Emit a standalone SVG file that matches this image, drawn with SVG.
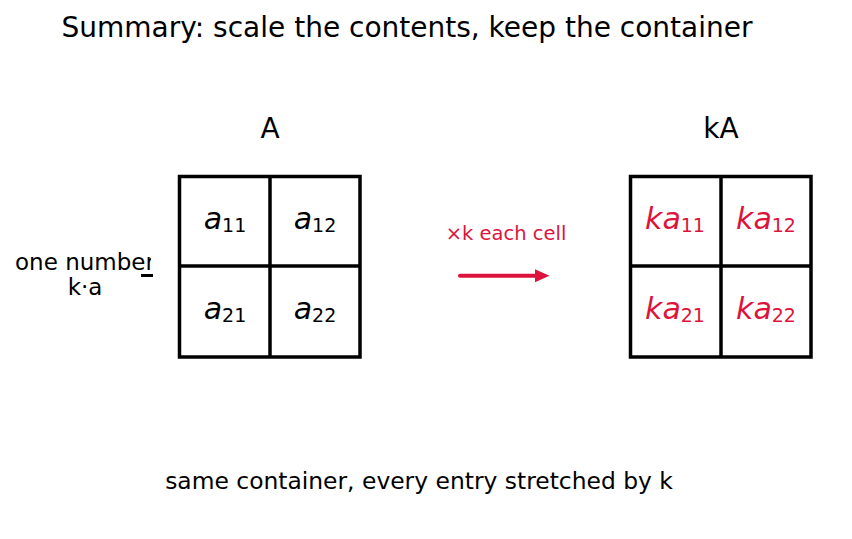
<svg xmlns="http://www.w3.org/2000/svg" width="852" height="539" viewBox="0 0 852 539">
<style>
text{font-family:"DejaVu Sans",sans-serif;}
.title{font-size:28px;fill:#000;text-anchor:middle;}
.lbl{font-size:28px;fill:#000;text-anchor:middle;}
.cell{font-size:30px;text-anchor:middle;}
.cell .v{font-style:italic;}
.cell .s{font-size:19px;}
.blk{fill:#000;}
.red{fill:#DC143C;}
.grid{fill:none;stroke:#000;stroke-width:3.5;}
.note{font-size:23px;fill:#000;text-anchor:middle;}
.foot{font-size:23.4px;fill:#000;text-anchor:middle;}
.op{font-size:19.5px;fill:#DC143C;text-anchor:middle;}
</style>
<defs>
<clipPath id="lc"><rect x="0" y="240" width="151" height="70"/></clipPath>
</defs>
<rect width="852" height="539" fill="#fff"/>
<text class="title" x="407" y="37">Summary: scale the contents, keep the container</text>
<g id="matrixA">
<text class="lbl" x="270" y="138">A</text>
<rect class="grid" x="179.5" y="176.5" width="180.5" height="180.5"/>
<line class="grid" x1="270" y1="176.5" x2="270" y2="357"/>
<line class="grid" x1="179.5" y1="266" x2="360" y2="266"/>
<text class="cell blk" x="225" y="229"><tspan class="v">a</tspan><tspan class="s" dy="3">11</tspan></text>
<text class="cell blk" x="315" y="229"><tspan class="v">a</tspan><tspan class="s" dy="3">12</tspan></text>
<text class="cell blk" x="225" y="319"><tspan class="v">a</tspan><tspan class="s" dy="3">21</tspan></text>
<text class="cell blk" x="315" y="319"><tspan class="v">a</tspan><tspan class="s" dy="3">22</tspan></text>
</g>
<g id="matrixKA">
<text class="lbl" x="721" y="138">kA</text>
<rect class="grid" x="630.5" y="176.5" width="180.5" height="180.5"/>
<line class="grid" x1="721" y1="176.5" x2="721" y2="357"/>
<line class="grid" x1="630.5" y1="266" x2="811" y2="266"/>
<text class="cell red" x="675" y="229"><tspan class="v">ka</tspan><tspan class="s" dy="3">11</tspan></text>
<text class="cell red" x="766" y="229"><tspan class="v">ka</tspan><tspan class="s" dy="3">12</tspan></text>
<text class="cell red" x="675" y="319"><tspan class="v">ka</tspan><tspan class="s" dy="3">21</tspan></text>
<text class="cell red" x="766" y="319"><tspan class="v">ka</tspan><tspan class="s" dy="3">22</tspan></text>
</g>
<g id="scalar">
<g clip-path="url(#lc)">
<text class="note" x="85" y="270">one number</text>
</g>
<text class="note" x="85" y="295">k·a</text>
</g>
<g id="connectors">
<line x1="141" y1="275.5" x2="153" y2="275.5" stroke="#000" stroke-width="3"/>
<line x1="460" y1="275.7" x2="537" y2="275.7" stroke="#DC143C" stroke-width="4" stroke-linecap="round"/>
<polygon points="535,269.2 549.5,275.7 535,282.2" fill="#DC143C"/>
<text class="op" x="506" y="240">×k each cell</text>
</g>
<text class="foot" x="419" y="489">same container, every entry stretched by k</text>
</svg>
